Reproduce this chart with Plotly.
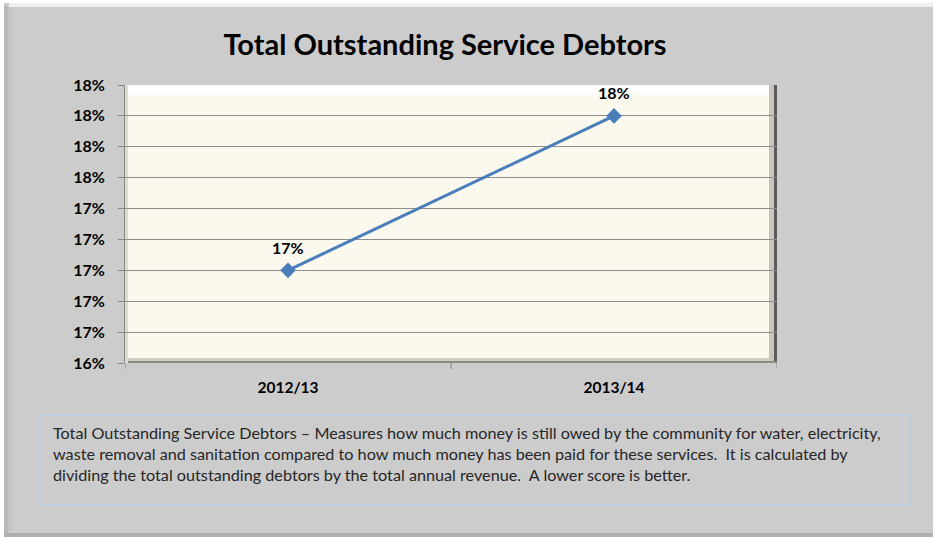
import plotly.graph_objects as go

# Data
years = ["2012/13", "2013/14"]
debtor_ratio = [0.170, 0.180]
point_labels = ["17%", "18%"]
y_ticks = [0.164, 0.166, 0.168, 0.170, 0.172, 0.174, 0.176, 0.178, 0.180, 0.182]

note = ("Total Outstanding Service Debtors \u2013 Measures how much money is still owed by the community for water, electricity,<br>"
        "waste removal and sanitation compared to how much money has been paid for these services.  It is calculated by<br>"
        "dividing the total outstanding debtors by the total annual revenue.  A lower score is better.")

W, H = 933, 537
L, R, T, B = 125, 777, 85, 363  # plot area in pixels

def px_x(x):
    return (x - L) / (R - L)

def px_y(y):
    return (B - y) / (B - T)

FONT = "Lato, Calibri, sans-serif"
BOLD14 = dict(family=FONT, size=16, color="#000000", weight="bold")

fig = go.Figure()
fig.add_trace(go.Scatter(
    x=years, y=debtor_ratio,
    mode="lines+markers",
    line=dict(color="#4a7ebb", width=3),
    marker=dict(symbol="diamond", size=12, color="#4a7ebb"),
    cliponaxis=False,
    hoverinfo="skip",
))

shapes = []
# outer frame bevel
shapes.append(dict(type="rect", xref="paper", yref="paper", x0=px_x(0), x1=px_x(W), y0=px_y(0), y1=px_y(3),
                   fillcolor="#ffffff", line_width=0, layer="below"))
shapes.append(dict(type="rect", xref="paper", yref="paper", x0=px_x(0), x1=px_x(4), y0=px_y(0), y1=px_y(H),
                   fillcolor="#ffffff", line_width=0, layer="below"))
shapes.append(dict(type="rect", xref="paper", yref="paper", x0=px_x(9), x1=px_x(W), y0=px_y(3), y1=px_y(7),
                   fillcolor="#f0f0f0", line_width=0, layer="below"))
shapes.append(dict(type="rect", xref="paper", yref="paper", x0=px_x(4), x1=px_x(8), y0=px_y(6), y1=px_y(H - 4),
                   fillcolor="#b8b8b8", line_width=0, layer="below"))
shapes.append(dict(type="rect", xref="paper", yref="paper", x0=px_x(8), x1=px_x(12), y0=px_y(7), y1=px_y(H - 6),
                   fillcolor="#c4c4c4", line_width=0, layer="below"))
shapes.append(dict(type="rect", xref="paper", yref="paper", x0=px_x(4), x1=px_x(W), y0=px_y(H - 4), y1=px_y(H),
                   fillcolor="#b0b0b0", line_width=0, layer="below"))

# plot area bevel
shapes.append(dict(type="rect", xref="paper", yref="paper", x0=0.004, x1=0.992, yanchor=1, ysizemode="pixel",
                   y0=-8, y1=0, fillcolor="#ffffff", line_width=0, layer="below"))
shapes.append(dict(type="rect", xref="paper", yref="paper", x0=0.004, x1=0.992, yanchor=1, ysizemode="pixel",
                   y0=-11, y1=-8, fillcolor="#fdfcf6", line_width=0, layer="below"))
shapes.append(dict(type="rect", xref="paper", yref="paper", xanchor=1, xsizemode="pixel", x0=-8, x1=-3,
                   y0=0, y1=1, fillcolor="#c8c6bc", line_width=0, layer="below"))
shapes.append(dict(type="rect", xref="paper", yref="paper", xanchor=1, xsizemode="pixel", x0=-3, x1=0,
                   y0=0, y1=1, fillcolor="#5a5a5a", line_width=0, layer="below"))
shapes.append(dict(type="rect", xref="paper", yref="paper", yanchor=0, ysizemode="pixel", y0=0, y1=5,
                   x0=0, x1=0.99, fillcolor="#cfcdc2", line_width=0, layer="below"))
shapes.append(dict(type="rect", xref="paper", yref="paper", yanchor=0, ysizemode="pixel", y0=0, y1=2,
                   x0=0, x1=1, fillcolor="#8a8a84", line_width=0, layer="below"))
shapes.append(dict(type="rect", xref="paper", yref="paper", xanchor=0, xsizemode="pixel", x0=0, x1=3,
                   y0=0, y1=1, fillcolor="#dedcd2", line_width=0, layer="below"))

# description box
shapes.append(dict(type="rect", xref="paper", yref="paper", x0=px_x(40), x1=px_x(911), y0=px_y(505), y1=px_y(415),
                   line=dict(color="#b9cde5", width=1.5), fillcolor="rgba(0,0,0,0)"))

# x-axis ticks at category boundaries, hanging below the plot
for xv in [-0.5, 0.5, 1.5]:
    shapes.append(dict(type="line", xref="x", yref="paper", x0=xv, x1=xv, y0=0, y1=-6,
                       ysizemode="pixel", yanchor=0, line=dict(color="#868686", width=1)))

annotations = [dict(text=note, xref="paper", yref="paper", x=px_x(51), y=px_y(421),
                    xanchor="left", yanchor="top", align="left", showarrow=False,
                    font=dict(family=FONT, size=16.2, color="#262626"))]
for yr, val, lab in zip(years, debtor_ratio, point_labels):
    annotations.append(dict(x=yr, y=val, text=lab, showarrow=False, yshift=23,
                            font=BOLD14))

fig.update_layout(
    width=W, height=H,
    margin=dict(l=L, r=W - R, t=T, b=H - B, pad=0),
    paper_bgcolor="#cccccc",
    plot_bgcolor="#fbf9ee",
    showlegend=False,
    title=dict(text="<b>Total Outstanding Service Debtors</b>", x=445 / W, xanchor="center",
               y=1 - 45 / H, yanchor="middle",
               font=dict(family=FONT, size=29, color="#000000")),
    xaxis=dict(type="category", range=[-0.5, 1.5], showgrid=False, zeroline=False,
               showline=False, ticks="", tickfont=dict(family=FONT, size=15.5, color="#000000", weight="bold"),
               ticklabelstandoff=13, fixedrange=True),
    yaxis=dict(range=[0.164, 0.182], tickvals=y_ticks, tickformat=".0%",
               showgrid=True, gridcolor="#8e8e8e", gridwidth=1, zeroline=False,
               showline=True, linecolor="#868686", linewidth=1, ticks="outside", ticklen=6,
               tickcolor="#868686", tickfont=BOLD14,
               ticklabelstandoff=10, fixedrange=True),
    shapes=shapes,
    annotations=annotations,
)

fig.write_html("out.html")
